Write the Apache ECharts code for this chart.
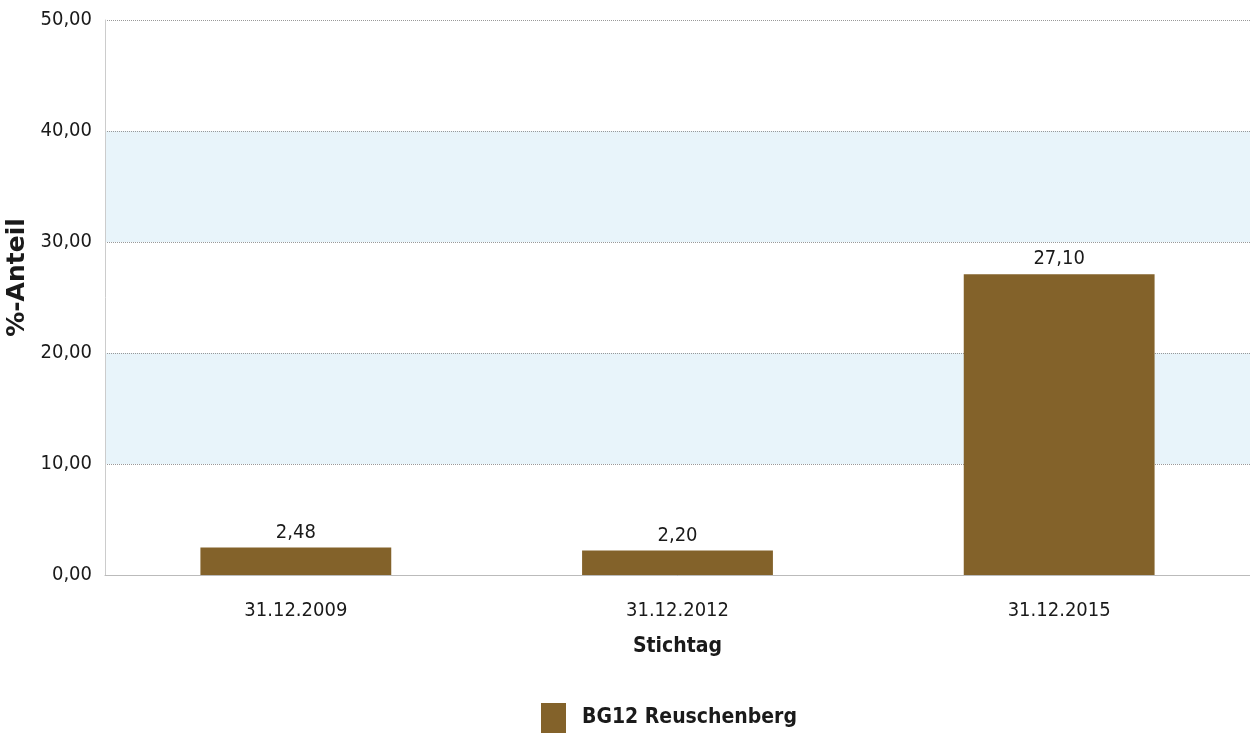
<!DOCTYPE html>
<html><head><meta charset="utf-8">
<script src="https://cdn.jsdelivr.net/npm/echarts@6/dist/echarts.min.js"></script>
<style>html,body{margin:0;padding:0;background:#fff}#c{width:1250px;height:738px}</style>
</head><body><div id="c"></div>
<script>
const categories = ['31.12.2009', '31.12.2012', '31.12.2015'];
const values = [2.48, 2.20, 27.10];
const seriesName = 'BG12 Reuschenberg';
const yTicks = [0, 10, 20, 30, 40, 50];

const font = '"DejaVu Sans Condensed", sans-serif';
const fmt = v => v.toFixed(2).replace('.', ',');
const chart = echarts.init(document.getElementById('c'));
chart.setOption({
  animation: false,
  grid: { left: 105, right: 0, top: 20, bottom: 163, containLabel: false, outerBoundsMode: 'none' },
  legend: {
    data: [seriesName], top: 698, left: 536, itemWidth: 25, itemHeight: 30, icon: 'rect',
    textStyle: { fontFamily: font, fontSize: 21, fontWeight: 'bold', color: '#1a1a1a', padding: [0, 0, 0, 11] }
  },
  xAxis: {
    type: 'category', data: categories, name: 'Stichtag', nameLocation: 'middle', nameGap: 61,
    nameTextStyle: { fontFamily: font, fontSize: 21, fontWeight: 'bold', color: '#1a1a1a' },
    axisLine: { lineStyle: { color: '#bbb', width: 1 } },
    axisTick: { alignWithLabel: true, length: 14, lineStyle: { color: '#999', type: [1, 2] } },
    axisLabel: { fontFamily: font, fontSize: 20, color: '#1a1a1a', margin: 26 }
  },
  yAxis: {
    type: 'value', min: yTicks[0], max: yTicks[yTicks.length - 1], interval: 10,
    name: '%-Anteil', nameLocation: 'middle', nameGap: 73, nameRotate: 90,
    nameTextStyle: { fontFamily: '"DejaVu Sans", sans-serif', fontSize: 25, fontWeight: 'bold', color: '#1a1a1a', padding: [0, 0, 0, 40] },
    axisLine: { show: true, lineStyle: { color: '#ccc' } },
    axisTick: { show: false },
    axisLabel: { fontFamily: font, fontSize: 20, color: '#1a1a1a', formatter: v => fmt(v), margin: 13 },
    splitLine: { lineStyle: { color: '#999', type: [1, 1], width: 1 } },
    splitArea: { show: true, areaStyle: { color: ['#ffffff', '#e8f4fa'] } }
  },
  series: [{
    name: seriesName, type: 'bar', data: values, barWidth: '50%',
    itemStyle: { color: '#83622a' },
    label: { show: true, position: 'top', distance: 5, formatter: p => fmt(p.value),
      fontFamily: font, fontSize: 20, color: '#1a1a1a' }
  }]
});
</script></body></html>
